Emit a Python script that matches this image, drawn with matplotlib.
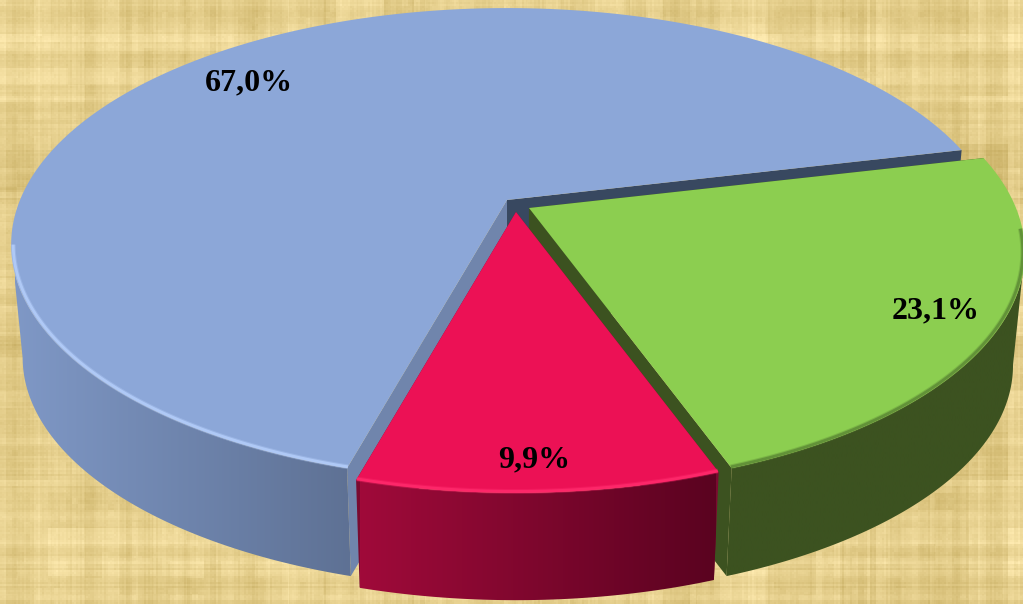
import numpy as np
import matplotlib
matplotlib.use('Agg')
import matplotlib.pyplot as plt
from matplotlib.colors import LinearSegmentedColormap
from matplotlib.patches import Polygon

# slices, clockwise from the back right edge
labels = ['23,1%', '9,9%', '67,0%']
shares = [23.1, 9.9, 67.0]

# look of each slice, same order
top_colors = ['#8CCE50', '#EC1155', '#8CA7D8']
rim_colors = ['#5E8C36', '#FF2A6C', '#B4CDFA']
wall_grads = [('#3C5220', '#3C5220'), ('#A00A3A', '#5A0320'), ('#7F98C6', '#5E7194')]
# cut face at the start and at the end of each slice
cut_colors = [('#3C5220', '#3C5220'), ('#7A0A30', '#7A0A30'), ('#7085AC', '#384860')]
wall_spans = [(700, 1023), (360, 716), (15, 352)]
apexes = [(529, 208), (516, 212), (507, 200)]
label_pos = [(936, 311), (534, 460), (249, 83)]

# pie plane -> pixels
start_angle = 13.2
rx, ry, persp = 487.0, 228.0, 0.188
cx, cy, cy_low, shrink = 510.0, 205.0, 319.0, 0.977


def top_xy(theta, apex, r=1.0):
    t = np.radians(theta)
    u, v = r * np.cos(t), -r * np.sin(t)
    w = 1 - persp * v
    return apex[0] + rx * u / w, apex[1] + ry * v / w


def low_xy(x, y):
    return cx + shrink * (np.asarray(x) - cx), cy_low + shrink * (np.asarray(y) - cy)


def gradient_fill(ax, xy, c0, c1, x0, x1, zorder):
    cmap = LinearSegmentedColormap.from_list('g', [c0, c1])
    im = ax.imshow(np.linspace(0, 1, 256)[None, :], cmap=cmap, aspect='auto',
                   extent=(x0, x1, 604, 0), interpolation='bilinear', zorder=zorder)
    clip = Polygon(xy, closed=True, transform=ax.transData)
    im.set_clip_path(clip)


# papyrus background, noise only used for the texture
rng = np.random.default_rng(7)
H, W = 604, 1023
tex = np.zeros((H, W))
for step, amp in [(48, 4), (17, 3), (6, 2.5), (2, 2)]:
    col = np.repeat(rng.normal(0, amp, W // step + 2), step)[:W]
    row = np.repeat(rng.normal(0, amp, H // step + 2), step)[:H]
    tex += col[None, :] + row[:, None]
    blocks = rng.normal(0, amp * 0.5, (H // step + 2, W // step + 2))
    tex += np.repeat(np.repeat(blocks, step, axis=0), step, axis=1)[:H, :W]
base = np.array([233, 211, 146], dtype=float)
img = base[None, None, :] + tex[:, :, None] * np.array([1.0, 1.1, 1.4])
img = np.clip(img, 0, 255).astype(np.uint8)

fig = plt.figure(figsize=(10.23, 6.04), dpi=100)
ax = fig.add_axes([0, 0, 1, 1])
ax.imshow(img, extent=(0, W, H, 0), aspect='auto', interpolation='bilinear', zorder=0)

# draw blue first, then green, then red on top
starts = np.cumsum([0] + shares[:-1])
ends = np.cumsum(shares)
z = 1
for i in [2, 0, 1]:
    a0 = start_angle - starts[i] * 3.6
    a1 = start_angle - ends[i] * 3.6
    theta = np.linspace(a0, a1, 400)
    x, y = top_xy(theta, apexes[i])
    xl, yl = low_xy(x, y)
    ax_low, ay_low = low_xy(apexes[i][0], apexes[i][1])

    # cut faces
    ax.add_patch(Polygon([apexes[i], (x[0], y[0]), (xl[0], yl[0]), (ax_low, ay_low)],
                         closed=True, fc=cut_colors[i][0], ec='none', zorder=z))
    ax.add_patch(Polygon([apexes[i], (x[-1], y[-1]), (xl[-1], yl[-1]), (ax_low, ay_low)],
                         closed=True, fc=cut_colors[i][1], ec='none', zorder=z))

    # outer wall, only the front part up to the silhouette tangent
    if i == 0:
        front = theta <= theta[np.argmax(x)]
    elif i == 2:
        front = theta >= theta[np.argmin(x)]
    else:
        front = np.ones_like(theta, dtype=bool)
    wall = np.vstack([np.c_[x[front], y[front]], np.c_[xl[front], yl[front]][::-1]])
    gradient_fill(ax, wall, wall_grads[i][0], wall_grads[i][1],
                  wall_spans[i][0], wall_spans[i][1], z + 0.1)

    # top face
    ax.add_patch(Polygon(np.vstack([[apexes[i]], np.c_[x, y]]), closed=True,
                         fc=top_colors[i], ec='none', zorder=z + 0.2))

    # bevel along the rim
    rim = front if i != 0 else theta < -5
    bx, by = top_xy(theta[rim], apexes[i], r=0.996)
    ax.plot(bx, by, color=rim_colors[i], lw=3.5, alpha=0.35, zorder=z + 0.3, solid_capstyle='butt')
    ax.plot(bx, by, color=rim_colors[i], lw=2.0, alpha=0.85, zorder=z + 0.3, solid_capstyle='butt')

    ax.text(label_pos[i][0], label_pos[i][1], labels[i], family='Liberation Serif',
            weight='bold', fontsize=23, color='black', ha='center', va='center', zorder=10)
    z += 1

ax.set_xlim(0, W)
ax.set_ylim(H, 0)
ax.axis('off')
fig.savefig('out.png', dpi=100)
